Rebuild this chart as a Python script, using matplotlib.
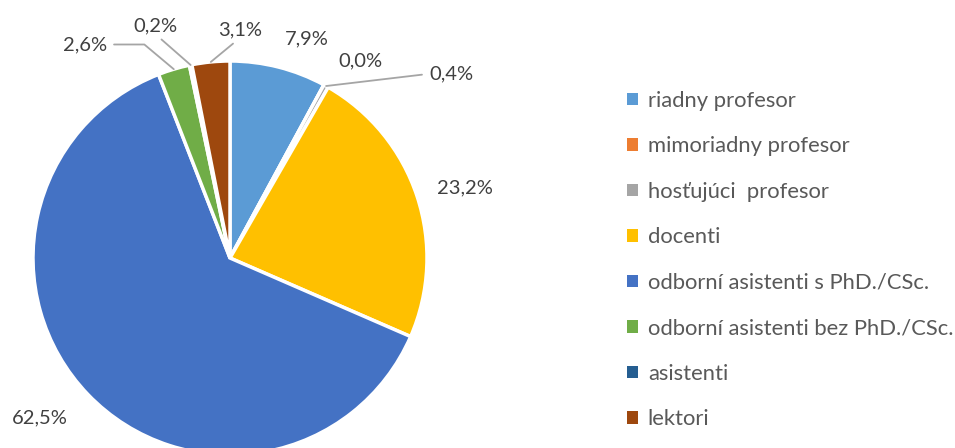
import matplotlib.pyplot as plt
import matplotlib.patches as mpatches
import numpy as np

plt.rcParams['font.family'] = ['Lato', 'DejaVu Sans']

categories = ['riadny profesor', 'mimoriadny profesor', 'hosťujúci  profesor', 'docenti',
              'odborní asistenti s PhD./CSc.', 'odborní asistenti bez PhD./CSc.',
              'asistenti', 'lektori']
shares = [7.9, 0.0, 0.4, 23.2, 62.5, 2.6, 0.2, 3.1]
labels = ['7,9%', '0,0%', '0,4%', '23,2%', '62,5%', '2,6%', '0,2%', '3,1%']
colors = ['#5B9BD5', '#ED7D31', '#A5A5A5', '#FFC000', '#4472C4', '#70AD47', '#255E91', '#9E480E']

# label placement: radius factor, angle offset (deg), leader (relpos, connection) or None
label_pos = {
    0: (1.18, -5, None),
    1: (1.20, -5, None),
    2: (1.46, -21, ((0, 0.5), 'arc3')),
    3: (1.245, -1.7, None),
    4: (1.26, -3.8, None),
    5: (1.31, 17.6, ((1, 0.5), 'angle,angleA=0,angleB=140,rad=0')),
    6: (1.24, 6.3, ((0.5, 0), 'arc3')),
    7: (1.16, -8, ((0.5, 0), 'arc3')),
}

fig = plt.figure(figsize=(9.55, 4.48), dpi=100)
ax = fig.add_axes([33 / 955, -7 / 448, 394 / 955, 394 / 448])

wedges, _ = ax.pie(shares, colors=colors, startangle=90, counterclock=False, radius=1,
                   wedgeprops=dict(edgecolor='white', linewidth=2.5))
for w in wedges:
    w.set_clip_on(False)
ax.set_xlim(-1, 1)
ax.set_ylim(-1, 1)
ax.set_aspect('equal')
ax.axis('off')

total = sum(shares)
cum = 0.0
txt_color = '#404040'
fs = 14.5
for i, v in enumerate(shares):
    mid = 90 - (cum + v / 2) / total * 360
    cum += v
    r, off, leader = label_pos[i]
    a = np.deg2rad(mid + off)
    tx, ty = r * np.cos(a), r * np.sin(a)
    am = np.deg2rad(mid)
    if leader:
        relpos, conn = leader
        ax.annotate(labels[i], xy=(np.cos(am), np.sin(am)), xytext=(tx, ty),
                    ha='center', va='center', fontsize=fs, color=txt_color,
                    annotation_clip=False,
                    arrowprops=dict(arrowstyle='-', color='#A5A5A5', lw=1.3, relpos=relpos,
                                    connectionstyle=conn, shrinkA=3, shrinkB=0))
    else:
        ax.text(tx, ty, labels[i], ha='center', va='center', fontsize=fs, color=txt_color,
                clip_on=False)

handles = [mpatches.Patch(facecolor=c, edgecolor='none') for c in colors]
fig.legend(handles, categories, loc='upper left', bbox_to_anchor=(627 / 955, 1 - 91 / 448),
           frameon=False, fontsize=15.8, labelcolor='#595959', handlelength=0.5, handleheight=0.5,
           handletextpad=0.45, labelspacing=1.16, borderaxespad=0, borderpad=0)

fig.savefig('out.png', dpi=100)
